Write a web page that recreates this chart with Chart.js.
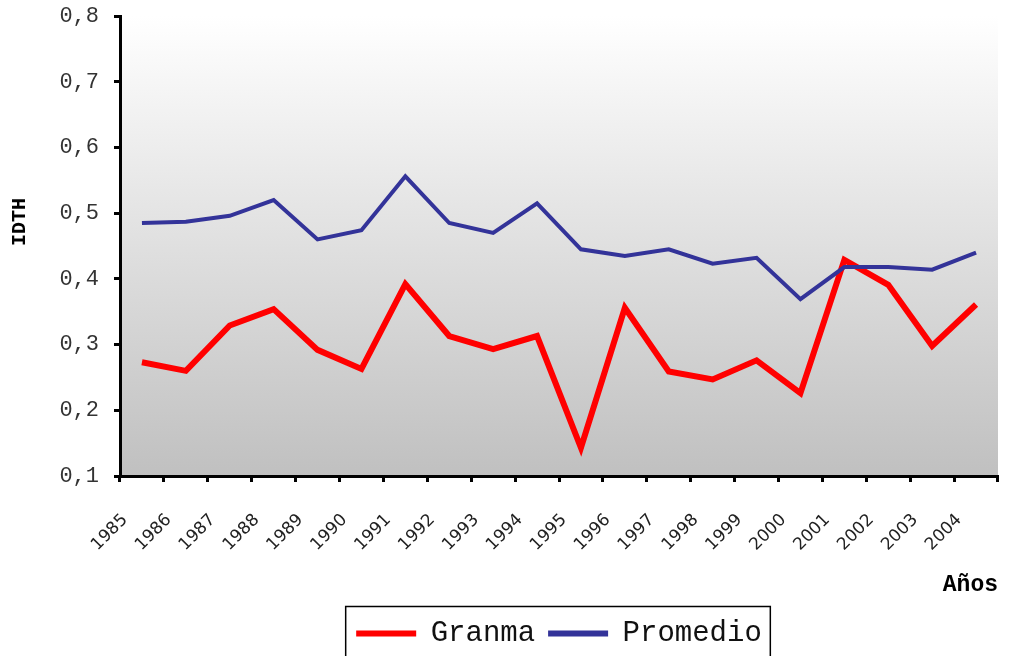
<!DOCTYPE html>
<html>
<head>
<meta charset="utf-8">
<script src="https://cdn.jsdelivr.net/npm/chart.js@4"></script>
<style>
  html, body { margin: 0; padding: 0; background: #fff; }
  #wrap { width: 1009px; height: 656px; }
</style>
</head>
<body>
<div id="wrap"><canvas id="idthChart"></canvas></div>
<script>
const years = ['1985', '1986', '1987', '1988', '1989', '1990', '1991', '1992', '1993', '1994',
  '1995', '1996', '1997', '1998', '1999', '2000', '2001', '2002', '2003', '2004'];
const granma = [0.273, 0.260, 0.329, 0.354, 0.292, 0.263, 0.392, 0.313, 0.293, 0.313,
  0.143, 0.356, 0.259, 0.247, 0.276, 0.226, 0.429, 0.391, 0.298, 0.361];
const promedio = [0.485, 0.487, 0.496, 0.520, 0.460, 0.474, 0.556, 0.485, 0.470, 0.515,
  0.445, 0.435, 0.445, 0.423, 0.432, 0.369, 0.418, 0.418, 0.414, 0.440];
const yTicks = [0.1, 0.2, 0.3, 0.4, 0.5, 0.6, 0.7, 0.8];

const mono = "'Liberation Mono', 'Courier New', monospace";

// gray gradient behind the plot
const plotBackground = {
  id: 'plotBackground',
  beforeDraw(chart) {
    const { ctx, chartArea: a } = chart;
    const g = ctx.createLinearGradient(0, a.top, 0, a.bottom);
    g.addColorStop(0, '#ffffff');
    g.addColorStop(1, '#c0c0c0');
    ctx.save();
    ctx.fillStyle = g;
    ctx.fillRect(a.left, a.top, a.right - a.left, a.bottom - a.top);
    ctx.restore();
  }
};

// frame round the legend items
const legendFrame = {
  id: 'legendFrame',
  afterDraw(chart) {
    const boxes = chart.legend.legendHitBoxes;
    if (!boxes || !boxes.length) return;
    const left = Math.min(...boxes.map(b => b.left)) - 11;
    const right = Math.max(...boxes.map(b => b.left + b.width)) + 8;
    const top = chart.legend.top;
    const bottom = chart.legend.bottom + 4;
    const ctx = chart.ctx;
    ctx.save();
    ctx.strokeStyle = '#000';
    ctx.lineWidth = 1.5;
    ctx.strokeRect(left + 0.5, top + 0.5, right - left, bottom - top);
    ctx.restore();
  }
};

const data = {
  labels: years,
  datasets: [{
    label: 'Granma',
    data: granma,
    borderColor: '#ff0000',
    backgroundColor: '#ff0000',
    borderWidth: 6,
    pointRadius: 0,
    tension: 0,
    order: 1
  }, {
    label: 'Promedio',
    data: promedio,
    borderColor: '#333399',
    backgroundColor: '#333399',
    borderWidth: 4,
    pointRadius: 0,
    tension: 0,
    order: 0
  }]
};

const config = {
  type: 'line',
  data: data,
  plugins: [plotBackground, legendFrame],
  options: {
    responsive: true,
    maintainAspectRatio: false,
    animation: false,
    layout: { padding: { top: 16, right: 11, bottom: -2, left: 0 } },
    plugins: {
      tooltip: { enabled: false },
      legend: {
        position: 'bottom',
        fullSize: false,
        labels: {
          boxWidth: 60,
          boxHeight: 6,
          padding: 13,
          color: '#111',
          font: { family: mono, size: 29 },
          sort: (a, b) => a.datasetIndex - b.datasetIndex,
          generateLabels(chart) {
            return chart.data.datasets.map((ds, i) => ({
              text: ds.label,
              fillStyle: ds.borderColor,
              strokeStyle: ds.borderColor,
              lineWidth: 0,
              fontColor: '#111',
              datasetIndex: i
            }));
          }
        }
      }
    },
    scales: {
      x: {
        offset: true,
        afterFit(scale) {
          scale.height = 130;
          scale.paddingLeft = 0;
          scale.paddingRight = 0;
        },
        grid: {
          offset: true,
          drawOnChartArea: false,
          drawTicks: true,
          tickLength: 6,
          tickWidth: 3,
          tickColor: '#000'
        },
        border: { display: true, color: '#000', width: 3 },
        ticks: {
          autoSkip: false,
          minRotation: 45,
          maxRotation: 45,
          labelOffset: -17,
          padding: 28,
          color: '#222',
          font: { family: "'DejaVu Sans', Verdana, sans-serif", size: 17 }
        },
        title: {
          display: true,
          text: 'Años',
          align: 'end',
          color: '#000',
          padding: { top: 0, bottom: 7 },
          font: { family: mono, size: 23, weight: 'bold' }
        }
      },
      y: {
        min: 0.1,
        max: 0.8,
        afterFit(scale) {
          scale.width = 120;
          scale.paddingTop = 0;
          scale.paddingBottom = 0;
        },
        afterBuildTicks(scale) { scale.ticks = yTicks.map(v => ({ value: v })); },
        grid: {
          drawOnChartArea: false,
          drawTicks: true,
          tickLength: 6,
          tickWidth: 3,
          tickColor: '#000'
        },
        border: { display: true, color: '#000', width: 3 },
        ticks: {
          padding: 15,
          color: '#333',
          font: { family: mono, size: 22 },
          callback: v => v.toFixed(1).replace('.', ',')
        },
        title: {
          display: true,
          text: '    IDTH',
          color: '#000',
          padding: { top: 8, bottom: 0 },
          font: { family: mono, size: 20, weight: 'bold' }
        }
      }
    }
  }
};

const idthChart = new Chart(document.getElementById('idthChart'), config);
</script>
</body>
</html>
